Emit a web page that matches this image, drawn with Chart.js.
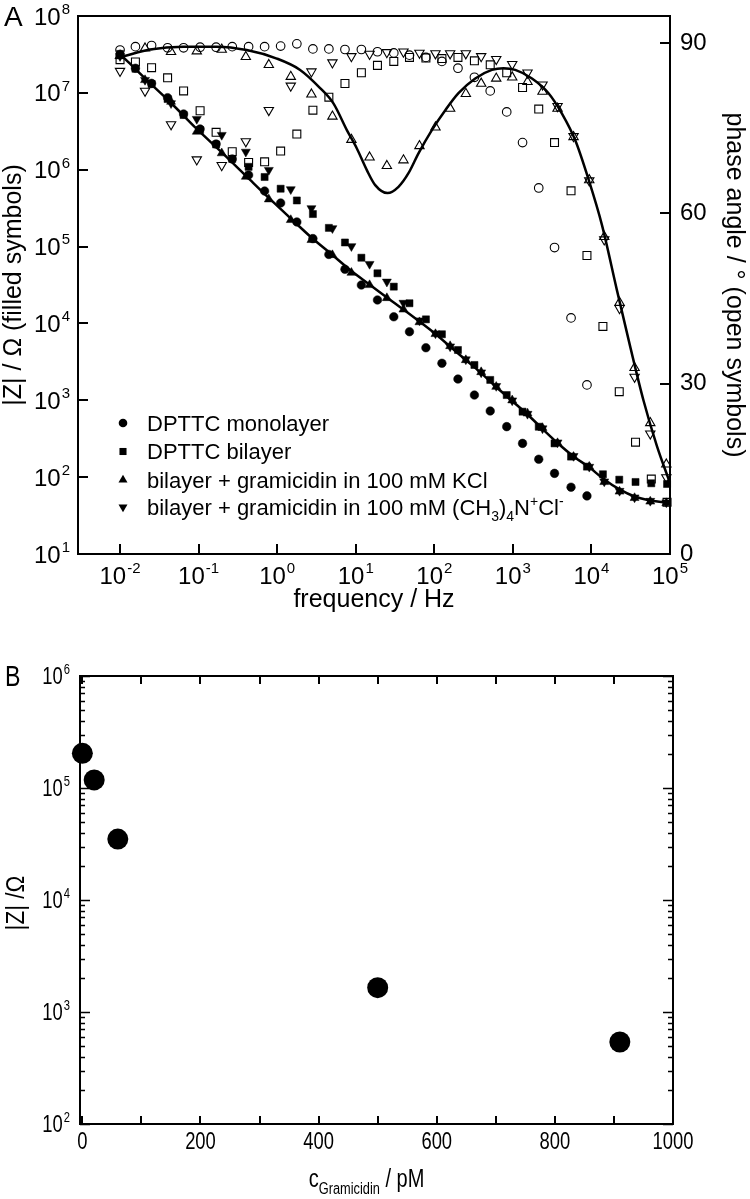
<!DOCTYPE html>
<html><head><meta charset="utf-8">
<script src="https://cdn.jsdelivr.net/npm/chart.js@4.4.1/dist/chart.umd.min.js"></script>
<style>
html,body{margin:0;padding:0;background:#fff;}
#wrapA{position:absolute;left:0;top:0;width:750px;height:640px;}
#wrapB{position:absolute;left:0;top:640px;width:750px;height:559px;}
canvas{display:block;}
</style></head><body>
<div id="wrapA"><canvas id="cA" width="750" height="640"></canvas></div>
<div id="wrapB"><canvas id="cB" width="750" height="559"></canvas></div>
<script>
// ================= Panel A data =================
// frequencies (Hz) of monolayer / bilayer measurements
const freqA = [0.01, 0.0157, 0.0252, 0.0403, 0.0644, 0.1045, 0.167, 0.268, 0.433, 0.692, 1.107, 1.78, 2.85, 4.55, 7.29, 11.8, 18.9, 30.5, 48.3, 78.2, 125, 200, 324, 515, 835, 1328, 2134, 3390, 5500, 8770, 14000, 22600, 36400, 57800, 91700];
const monoZ = [3.16e7, 2.09e7, 1.33e7, 8.65e6, 5.31e6, 3.39e6, 2.16e6, 1.38e6, 8.53e5, 5.28e5, 3.69e5, 2.09e5, 1.27e5, 7.9e4, 5.06e4, 3.16e4, 2.02e4, 1.22e4, 7.8e3, 4.83e3, 3.03e3, 1.89e3, 1.17e3, 726, 454, 275, 171, 112, 74, 57];
const monoPhase = [88.8, 89.4, 89.6, 89.2, 89.2, 89.3, 89.3, 89.4, 89.4, 89.4, 89.5, 89.9, 89.0, 89.0, 88.9, 88.9, 88.5, 88.3, 87.9, 87.5, 86.8, 85.6, 84.0, 81.6, 77.9, 72.5, 64.5, 54.0, 41.6, 29.8];
const bilayerZ = [3.21e7, 2.06e7, 1.30e7, 8.32e6, 5.15e6, 3.29e6, 2.13e6, 1.38e6, 1.09e6, 8.04e5, 5.66e5, 3.98e5, 2.65e5, 1.75e5, 1.13e5, 7.16e4, 4.49e4, 3.01e4, 1.83e4, 1.13e4, 7.23e3, 4.51e3, 2.88e3, 1.84e3, 1.17e3, 711, 453, 275, 185, 137, 109, 92.7, 86.5, 83.2, 81.5];
const bilayerPhase = [87.1, 86.7, 85.7, 83.9, 81.6, 78.1, 74.3, 70.9, 69.0, 69.1, 71.0, 74.0, 78.2, 80.5, 82.9, 84.8, 86.1, 86.8, 87.5, 87.4, 87.3, 87.5, 86.9, 86.2, 84.8, 82.2, 78.4, 72.5, 64.0, 52.6, 40.1, 28.6, 19.7, 13.2, 9.1];
// frequencies (Hz) of gramicidin measurements
const freqB = [0.01, 0.0208, 0.0446, 0.0948, 0.197, 0.399, 0.783, 1.49, 2.73, 5.05, 8.81, 15.0, 24.9, 40.5, 64.7, 103.5, 159, 252, 395, 614, 981, 1536, 2385, 3704, 5920, 9380, 14560, 22800, 35400, 56100, 89800];
const kclZ = [3.0e7, 1.47e7, 7.67e6, 3.13e6, 1.64e6, 8.11e5, 4.12e5, 2.22e5, 1.22e5, 7.76e4, 4.57e4, 3.16e4, 2.14e4, 1.52e4, 1.04e4, 7.29e3, 5.08e3, 3.34e3, 2.33e3, 1.50e3, 1.00e3, 676, 437, 278, 184, 137, 86.5, 65, 53.6, 48.2, 46];
const kclPhase = [87.8, 89.1, 88.5, 88.6, 88.9, 87.6, 86.2, 84.1, 81.0, 77.1, 73.0, 69.9, 68.4, 69.4, 71.9, 75.2, 78.5, 81.1, 82.9, 83.8, 84.0, 83.2, 81.5, 78.5, 73.5, 65.9, 55.9, 44.3, 32.8, 23.1, 15.8];
const tmaZ = [3.0e7, 1.47e7, 7.31e6, 4.57e6, 2.83e6, 1.71e6, 9.91e5, 5.56e5, 3.15e5, 1.73e5, 1.01e5, 5.93e4, 3.49e4, 1.85e4, 1.09e4, 7.40e3, 5.01e3, 3.40e3, 2.30e3, 1.53e3, 993, 664, 430, 282, 188, 136, 87.7, 66.1, 54.3, 49, 46.8];
const tmaPhase = [85.1, 81.6, 75.7, 69.5, 68.5, 72.7, 78.2, 82.5, 85.0, 86.6, 87.7, 88.1, 88.4, 88.5, 88.3, 88.2, 88.2, 88.2, 87.7, 87.2, 86.3, 84.8, 82.7, 78.9, 73.6, 65.8, 55.4, 43.3, 31.2, 21.2, 13.5];
// fitted curves
const fitZFreq = [0.0105, 0.0208, 0.0446, 0.0948, 0.197, 0.399, 0.783, 1.49, 2.73, 5.05, 8.81, 15.0, 24.9, 40.5, 64.7, 103.5, 159, 252, 395, 614, 981, 1536, 2385, 3704, 5920, 9380, 14560, 22800, 35400, 56100, 100000];
const fitZ = [3.06e7, 1.54e7, 7.38e6, 3.39e6, 1.68e6, 8.36e5, 4.29e5, 2.32e5, 1.31e5, 7.77e4, 4.81e4, 3.21e4, 2.18e4, 1.52e4, 1.06e4, 7.29e3, 5.01e3, 3.34e3, 2.26e3, 1.49e3, 979, 653, 424, 278, 186, 134, 93.3, 69.2, 56.0, 49.7, 46.2];
const fitPhaseFreq = [0.0105, 0.0241, 0.064, 0.17, 0.41, 0.989, 1.96, 3.52, 5.2, 7.71, 10.3, 13.9, 17.7, 25.4, 35.0, 46.9, 62.9, 93.1, 138, 203, 332, 541, 760, 1072, 1750, 2846, 4215, 6225, 9190, 13600, 21100, 31200, 46100, 68200, 100000];
const fitPhase = [87.6, 88.9, 89.4, 89.4, 88.8, 87.3, 85.3, 82.1, 79.4, 74.7, 71.5, 67.6, 65.0, 63.6, 64.7, 67.1, 70.6, 74.7, 78.2, 81.2, 83.8, 85.3, 85.6, 85.3, 83.8, 81.2, 77.6, 72.9, 66.0, 58.0, 46.5, 36.5, 27.0, 19.0, 12.5];
// axis ticks (exponents / values)
const xExpA = [-2, -1, 0, 1, 2, 3, 4, 5];
const yExpA = [1, 2, 3, 4, 5, 6, 7, 8];
const phaseTicks = [0, 30, 60, 90];
const legendNames = ["DPTTC monolayer", "DPTTC bilayer", "bilayer + gramicidin in 100 mM KCl", "bilayer + gramicidin in 100 mM (CH3)4N+Cl-"];

// ================= Panel B data =================
const concB = [0, 20, 60, 500, 910];
const zB = [2.04e5, 1.18e5, 3.5e4, 1.65e3, 540];
const xTicksB = [0, 200, 400, 600, 800, 1000];
const xMinorB = [100, 300, 500, 700, 900];
const yExpB = [2, 3, 4, 5, 6];

// ================= helpers =================
const FONT = "'Liberation Sans', Arial, Helvetica, sans-serif";
function pts(f, v) { return v.map((y, i) => ({ x: f[i], y: y })); }

function powLabel(ctx, x, yc, exp, size, align, sx) {
  sx = sx || 1;
  const es = Math.round(size * 0.62);
  ctx.font = size + 'px ' + FONT;
  const wb = ctx.measureText('10').width * sx;
  ctx.font = es + 'px ' + FONT;
  const we = ctx.measureText(String(exp)).width * sx;
  const total = wb + we + 1;
  const x0 = align === 'right' ? x - total : (align === 'center' ? x - total / 2 : x);
  const base = yc + size * 0.716 / 2;
  ctx.textAlign = 'left'; ctx.textBaseline = 'alphabetic';
  ctx.save(); ctx.translate(x0, base); ctx.scale(sx, 1);
  ctx.font = size + 'px ' + FONT; ctx.fillText('10', 0, 0); ctx.restore();
  ctx.save(); ctx.translate(x0 + wb + 1, base - size * 0.45); ctx.scale(sx, 1);
  ctx.font = es + 'px ' + FONT; ctx.fillText(String(exp), 0, 0); ctx.restore();
}

function sym(ctx, type, x, y, r, filled) {
  ctx.beginPath();
  if (type === 'circle') ctx.arc(x, y, r, 0, Math.PI * 2);
  else if (type === 'rect') { const s = r * Math.SQRT1_2; ctx.rect(x - s, y - s, 2 * s, 2 * s); }
  else if (type === 'up') { ctx.moveTo(x, y - r); ctx.lineTo(x + r * 0.866, y + r / 2); ctx.lineTo(x - r * 0.866, y + r / 2); ctx.closePath(); }
  else if (type === 'down') { ctx.moveTo(x, y + r); ctx.lineTo(x + r * 0.866, y - r / 2); ctx.lineTo(x - r * 0.866, y - r / 2); ctx.closePath(); }
  if (filled) ctx.fill(); else ctx.stroke();
}

// rich text pieces: [text, mode] mode 0 normal, 1 sub, 2 sup
function richText(ctx, x, base, parts, size, sx) {
  sx = sx || 1;
  let cx = x;
  for (const [t, m] of parts) {
    const s = m === 0 ? size : Math.round(size * 0.64);
    const dy = m === 1 ? size * 0.28 : (m === 2 ? -size * 0.42 : 0);
    ctx.font = s + 'px ' + FONT;
    ctx.save(); ctx.translate(cx, base + dy); ctx.scale(sx, 1);
    ctx.textAlign = 'left'; ctx.textBaseline = 'alphabetic';
    ctx.fillText(t, 0, 0); ctx.restore();
    cx += ctx.measureText(t).width * sx;
  }
  return cx - x;
}
function richWidth(ctx, parts, size, sx) {
  sx = sx || 1; let w = 0;
  for (const [t, m] of parts) {
    const s = m === 0 ? size : Math.round(size * 0.64);
    ctx.font = s + 'px ' + FONT; w += ctx.measureText(t).width * sx;
  }
  return w;
}

// ================= Panel A =================
const frameA = {
  id: 'frameA',
  afterDraw(chart) {
    const ctx = chart.ctx, a = chart.chartArea;
    const xs = chart.scales.x, ys = chart.scales.y, yp = chart.scales.y2;
    ctx.save();
    ctx.strokeStyle = '#000'; ctx.fillStyle = '#000'; ctx.lineWidth = 2;
    ctx.strokeRect(a.left, a.top, a.right - a.left, a.bottom - a.top);
    const TL = 10;
    ctx.beginPath();
    xExpA.forEach(e => { const px = Math.round(xs.getPixelForValue(Math.pow(10, e))); ctx.moveTo(px, a.bottom); ctx.lineTo(px, a.bottom - TL); });
    yExpA.forEach(e => { const py = Math.round(ys.getPixelForValue(Math.pow(10, e))); ctx.moveTo(a.left, py); ctx.lineTo(a.left + TL, py); });
    phaseTicks.forEach(v => { const py = Math.round(yp.getPixelForValue(v)); ctx.moveTo(a.right, py); ctx.lineTo(a.right - TL, py); });
    ctx.stroke();
    // tick labels
    xExpA.forEach(e => powLabel(ctx, xs.getPixelForValue(Math.pow(10, e)), a.bottom + 21, e, 24, 'center'));
    yExpA.forEach(e => powLabel(ctx, a.left - 8, ys.getPixelForValue(Math.pow(10, e)), e, 24, 'right'));
    ctx.font = '24px ' + FONT; ctx.textAlign = 'left'; ctx.textBaseline = 'middle';
    phaseTicks.forEach(v => ctx.fillText(String(v), a.right + 10, yp.getPixelForValue(v)));
    // axis titles
    ctx.font = '25px ' + FONT; ctx.textAlign = 'center'; ctx.textBaseline = 'middle';
    ctx.fillText('frequency / Hz', (a.left + a.right) / 2, a.bottom + 46);
    ctx.save(); ctx.translate(14, (a.top + a.bottom) / 2); ctx.rotate(-Math.PI / 2);
    ctx.fillText('|Z| / \u03A9 (filled symbols)', 0, 0); ctx.restore();
    ctx.save(); ctx.translate(734, (a.top + a.bottom) / 2); ctx.rotate(Math.PI / 2);
    ctx.fillText('phase angle / \u00B0 (open symbols)', 0, 0); ctx.restore();
    // panel letter
    ctx.font = '28px ' + FONT; ctx.textAlign = 'left'; ctx.textBaseline = 'alphabetic';
    ctx.fillText('A', 4, 26);
    // legend
    const rows = [423, 451.5, 480, 507];
    const types = ['circle', 'rect', 'up', 'down'];
    const rads = [4.3, 5, 5.2, 5.2];
    rows.forEach((ry, i) => {
      sym(ctx, types[i], 123, ry, rads[i], true);
      const base = ry + 22 * 0.716 / 2;
      let parts;
      if (i === 3) parts = [['bilayer + gramicidin in 100 mM (CH', 0], ['3', 1], [')', 0], ['4', 1], ['N', 0], ['+', 2], ['Cl', 0], ['-', 2]];
      else parts = [[legendNames[i], 0]];
      richText(ctx, 147, base, parts, 22);
    });
    ctx.restore();
  }
};

const filled = '#000', none = 'rgba(0,0,0,0)';
function ds(data, style, r, fill, axis, rot) {
  return {
    data, yAxisID: axis, showLine: false, pointStyle: style, rotation: rot || 0,
    pointRadius: r, pointBackgroundColor: fill ? filled : none, pointBorderColor: '#000',
    pointBorderWidth: fill ? 0.5 : 1.1, clip: false
  };
}

new Chart(document.getElementById('cA'), {
  type: 'scatter',
  data: {
    datasets: [
      { data: pts(fitZFreq, fitZ), yAxisID: 'y', showLine: true, pointRadius: 0, borderColor: '#000', borderWidth: 2.5, cubicInterpolationMode: 'monotone', fill: false },
      { data: pts(fitPhaseFreq, fitPhase), yAxisID: 'y2', showLine: true, pointRadius: 0, borderColor: '#000', borderWidth: 2.5, cubicInterpolationMode: 'monotone', fill: false },
      ds(pts(freqA, monoZ), 'circle', 4.3, true, 'y'),
      ds(pts(freqA, bilayerZ), 'rect', 5, true, 'y'),
      ds(pts(freqB, kclZ), 'triangle', 5.2, true, 'y'),
      ds(pts(freqB, tmaZ), 'triangle', 5.2, true, 'y', 180),
      ds(pts(freqA, monoPhase), 'circle', 4.3, false, 'y2'),
      ds(pts(freqA, bilayerPhase), 'rect', 5.6, false, 'y2'),
      ds(pts(freqB, kclPhase), 'triangle', 5.4, false, 'y2'),
      ds(pts(freqB, tmaPhase), 'triangle', 5.4, false, 'y2', 180)
    ]
  },
  options: {
    responsive: false, animation: false, events: [],
    layout: { padding: { left: 78, top: 16, right: 80, bottom: 86 } },
    plugins: { legend: { display: false }, tooltip: { enabled: false } },
    scales: {
      x: { type: 'logarithmic', min: 0.002917, max: 1e5, display: false },
      y: { type: 'logarithmic', min: 10, max: 1e8, display: false },
      y2: { type: 'linear', min: 0, max: 94.8, display: false, position: 'right' }
    }
  },
  plugins: [frameA]
});

// ================= Panel B =================
const SXB = 0.8;
const frameB = {
  id: 'frameB',
  afterDraw(chart) {
    const ctx = chart.ctx, a = chart.chartArea;
    const xs = chart.scales.x, ys = chart.scales.y;
    ctx.save();
    ctx.strokeStyle = '#000'; ctx.fillStyle = '#000'; ctx.lineWidth = 2;
    ctx.strokeRect(a.left, a.top, a.right - a.left, a.bottom - a.top);
    ctx.beginPath();
    const tickX = (v, L) => { const px = Math.round(xs.getPixelForValue(v)); ctx.moveTo(px, a.bottom); ctx.lineTo(px, a.bottom - L); ctx.moveTo(px, a.top); ctx.lineTo(px, a.top + L); };
    xTicksB.forEach(v => tickX(v, 8));
    xMinorB.forEach(v => tickX(v, 8));
    const tickY = (v, L) => { const py = Math.round(ys.getPixelForValue(v)) + 0.5; ctx.moveTo(a.left, py); ctx.lineTo(a.left + L, py); ctx.moveTo(a.right, py); ctx.lineTo(a.right - L, py); };
    ctx.stroke();
    ctx.beginPath(); ctx.lineWidth = 1.6;
    yExpB.forEach(e => tickY(Math.pow(10, e), 10));
    for (let e = 2; e < 6; e++) for (let m = 2; m <= 9; m++) tickY(m * Math.pow(10, e), 5);
    ctx.stroke();
    // labels
    ctx.textBaseline = 'middle'; ctx.textAlign = 'left';
    xTicksB.forEach(v => {
      ctx.font = '23px ' + FONT;
      const w = ctx.measureText(String(v)).width * SXB;
      ctx.save(); ctx.translate(xs.getPixelForValue(v) - w / 2, a.bottom + 19); ctx.scale(SXB, 1);
      ctx.fillText(String(v), 0, 0); ctx.restore();
    });
    yExpB.forEach(e => powLabel(ctx, a.left - 10, ys.getPixelForValue(Math.pow(10, e)), e, 23, 'right', SXB));
    // x title
    const parts = [['c', 0], ['Gramicidin', 1], [' / pM', 0]];
    const w = richWidth(ctx, parts, 25, SXB);
    richText(ctx, (a.left + a.right) / 2 - w / 2 - 10, 547, parts, 25, SXB);
    // y title
    ctx.save(); ctx.translate(17, 263); ctx.rotate(-Math.PI / 2); ctx.scale(0.9, 1);
    ctx.font = '25px ' + FONT; ctx.textAlign = 'center'; ctx.textBaseline = 'middle';
    ctx.fillText('|Z| /\u03A9', 0, 0); ctx.restore();
    // panel letter
    ctx.save(); ctx.translate(5, 46); ctx.scale(SXB, 1);
    ctx.font = '29px ' + FONT; ctx.textAlign = 'left'; ctx.textBaseline = 'alphabetic';
    ctx.fillText('B', 0, 0); ctx.restore();
    ctx.restore();
  }
};

new Chart(document.getElementById('cB'), {
  type: 'scatter',
  data: { datasets: [{ data: pts(concB, zB), pointStyle: 'circle', pointRadius: 10.5, pointBackgroundColor: '#000', pointBorderColor: '#000', pointBorderWidth: 0, showLine: false, clip: false }] },
  options: {
    responsive: false, animation: false, events: [],
    layout: { padding: { left: 80, top: 36, right: 77, bottom: 75 } },
    plugins: { legend: { display: false }, tooltip: { enabled: false } },
    scales: {
      x: { type: 'linear', min: -4, max: 1000, display: false },
      y: { type: 'logarithmic', min: 100, max: 1e6, display: false }
    }
  },
  plugins: [frameB]
});
</script>
</body></html>
